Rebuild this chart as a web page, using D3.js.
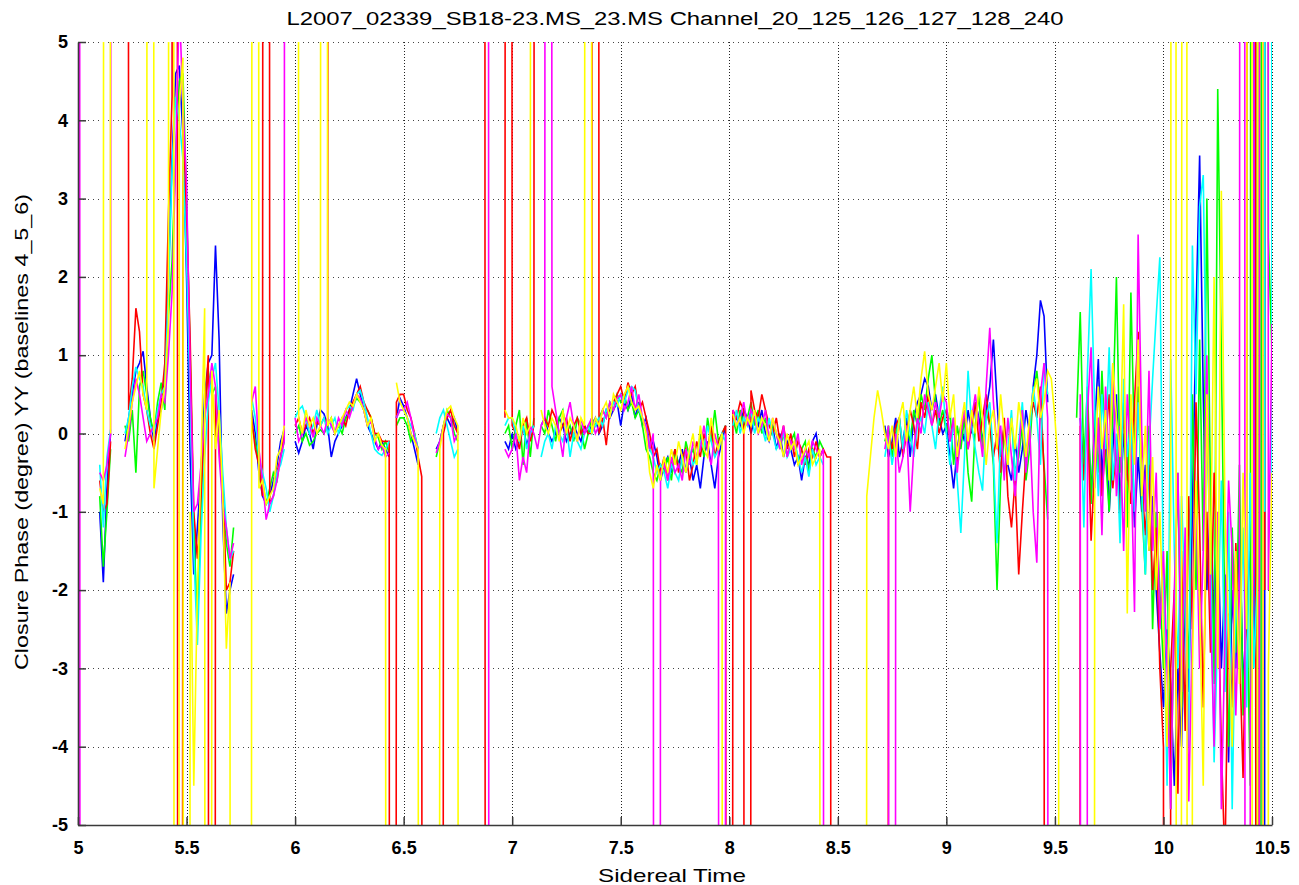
<!DOCTYPE html>
<html>
<head>
<meta charset="utf-8">
<script src="https://cdn.jsdelivr.net/npm/d3@7"></script>
<style>
  body { margin: 0; background: #fff; }
  svg { display: block; }
  text { font-family: "Liberation Sans", Arial, sans-serif; }
</style>
</head>
<body>
<div id="main"></div>
<script>
const N = null; // gap in the record (NaN in the original plot)

const chartTitle = "L2007_02339_SB18-23.MS_23.MS Channel_20_125_126_127_128_240";
const xLabel = "Sidereal Time";
const yLabel = "Closure Phase (degree) YY (baselines 4_5_6)";
const xTicks = [5, 5.5, 6, 6.5, 7, 7.5, 8, 8.5, 9, 9.5, 10, 10.5];
const yTicks = [-5, -4, -3, -2, -1, 0, 1, 2, 3, 4, 5];

// one sample per sidereal minute, 5.0h .. 10.5h (30 per row = half an hour)
const tStart = 5, samplesPerHour = 60;

const blue = [
  N,N,N,N,N,N,-1.0,-1.9,-0.7,0.0,N,N,N,-0.1,0.2,0.5,0.8,0.9,1.05,0.6,0.2,-0.1,0.2,0.3,0.7,2.0,3.5,4.6,4.7,3.8,
  2.0,-0.3,-1.8,-1.2,-0.5,0.5,0.9,1.0,2.4,1.2,-1.1,-2.3,-2.0,-1.8,N,N,N,N,0.3,0.0,-0.5,-0.8,-0.9,-0.8,-0.6,-0.4,-0.1,0.05,N,N,
  -0.1,-0.25,-0.1,0.1,0.0,-0.2,0.1,0.3,0.25,0.1,-0.3,-0.1,0.0,0.1,0.2,0.3,0.5,0.7,0.5,0.3,0.1,0.0,-0.1,-0.2,-0.1,-0.2,-0.3,N,0.2,0.45,
  0.35,0.2,0.0,-0.2,-0.4,N,N,N,N,-0.2,-0.1,0.1,0.2,0.1,0.2,0.0,N,N,N,N,N,N,N,N,N,N,N,N,-0.1,-0.2,
  0.0,-0.2,-0.1,0.1,-0.15,0.0,0.1,N,0.1,0.2,0.0,-0.1,0.0,0.2,0.1,-0.1,0.0,0.1,0.0,-0.1,0.1,0.0,0.1,0.2,0.0,0.1,0.3,0.2,0.3,0.4,
  0.1,0.4,0.3,0.5,0.2,0.4,0.1,0.2,-0.2,-0.1,-0.3,-0.6,-0.4,-0.3,-0.5,-0.2,-0.4,-0.2,-0.5,-0.3,-0.6,-0.4,-0.7,-0.3,-0.1,-0.4,-0.7,-0.3,-0.1,0.1,
  N,0.1,0.2,0.1,0.3,0.2,0.0,0.2,0.1,0.3,0.0,-0.1,0.1,-0.2,0.0,-0.3,-0.1,-0.2,-0.4,-0.3,-0.6,-0.3,-0.4,-0.1,0.0,-0.3,-0.2,N,N,N,
  N,N,N,N,N,N,N,N,N,N,N,N,N,0.1,-0.3,-0.1,0.2,-0.3,-0.1,0.2,-0.3,0.2,0.4,0.5,0.7,0.6,0.3,0.5,0.2,0.0,
  0.1,-0.3,-0.7,-0.2,0.1,-0.1,0.3,0.0,0.4,0.2,-0.1,0.3,0.6,1.2,0.4,-0.3,0.1,-0.4,-0.6,-0.1,-0.5,-0.2,0.3,0.0,0.6,1.0,1.7,1.5,0.4,N,
  N,N,N,N,N,N,N,0.2,-0.5,0.4,-0.8,0.1,0.95,-0.6,0.3,-1.0,-0.2,0.5,-0.9,0.0,-0.6,0.4,-1.2,-0.3,-1.0,-0.4,-1.5,-0.8,-2.0,-2.8,
  -3.5,-2.5,-3.2,-4.5,-3.0,-4.0,-2.0,-3.3,-1.0,1.5,3.55,0.5,-2.0,-0.8,-2.5,-1.2,-3.0,-1.8,-4.2,-2.0,-3.0,-1.0,-3.3,-2.2,-1.5,-2.8,99,-99,-1.0,99,
  3.0
];

const red = [
  N,N,N,N,N,N,-0.6,-1.0,-0.9,-0.1,N,N,N,99,0.3,0.7,1.6,1.3,0.5,0.3,0.0,-0.2,0.1,0.4,0.9,2.8,4.3,99,-99,4.0,
  2.8,1.2,-1.0,-1.6,-0.8,0.2,1.0,-99,0.5,-0.2,-0.6,-2.0,-1.9,-1.5,N,N,N,N,0.2,-0.2,-0.4,-0.8,99,-0.9,-0.8,-0.5,-0.3,0.0,N,N,
  0.1,0.2,0.0,0.1,0.2,0.0,0.15,0.1,0.2,0.1,99,N,0.1,0.2,0.1,0.3,0.4,0.5,0.6,0.4,0.3,0.2,0.0,0.0,-0.1,-0.1,-0.1,-99,0.4,0.5,
  0.5,0.3,0.2,0.0,-0.3,-0.55,-99,N,N,N,-99,0.0,0.2,0.3,0.1,0.0,N,N,N,N,N,N,99,-99,N,N,N,N,0.2,99,
  0.1,0.0,-0.2,0.1,0.2,-0.1,0.1,99,N,0.2,0.1,0.3,0.2,0.0,0.1,0.2,-0.1,0.1,0.2,0.0,0.1,0.0,0.0,99,0.0,0.2,-0.15,0.3,0.4,0.5,
  0.6,0.4,0.65,0.5,0.6,0.3,0.4,0.2,0.0,-0.3,-0.2,-0.5,-0.3,-0.6,-0.4,-0.2,-0.5,-0.3,-0.2,-0.6,-0.4,-0.1,-0.3,0.0,-0.2,0.1,-0.3,-0.1,0.0,0.1,
  -99,0.3,0.2,0.4,0.3,-99,0.55,0.3,0.2,0.5,0.3,0.1,0.0,0.2,-0.1,0.1,-0.2,0.0,-0.3,-0.1,-0.2,-0.4,-0.2,-0.3,-0.1,-0.3,-0.2,-0.3,-0.3,-99,
  N,N,N,N,N,N,N,N,N,N,N,N,N,-99,0.0,-0.2,0.1,0.2,-0.3,0.0,0.3,0.1,-0.2,0.4,0.2,0.5,0.1,0.3,0.0,0.2,
  0.3,-0.1,0.2,-0.4,0.0,0.3,-0.2,0.1,0.4,-0.1,0.2,0.5,0.1,-0.3,0.0,-0.5,0.2,-0.8,-1.2,-0.6,-1.8,-1.0,-0.3,0.1,0.4,0.2,0.6,-0.5,-99,N,
  N,N,N,N,N,N,-99,0.1,-0.6,0.3,-1.37,-0.4,0.2,-0.8,-0.1,0.5,-0.7,-0.2,-1.1,0.3,-0.5,-0.9,0.4,1.3,-0.6,-1.3,-0.4,-2.0,-1.2,-3.0,
  -4.0,-99,-3.0,-2.0,-4.6,-1.5,-3.8,-0.8,-2.5,0.4,-1.2,-3.5,-1.0,-2.8,-0.5,-1.8,-4.0,-5.5,-2.3,-3.5,-1.4,-2.7,-4.4,-1.9,99,99,-99,99,-2.0,99,
  4.0
];

const green = [
  N,N,N,N,N,N,-0.8,-1.7,-1.0,-0.2,N,N,N,0.1,-0.1,0.3,-0.5,0.6,0.8,0.5,0.2,0.0,0.4,0.65,0.3,1.5,2.2,3.6,4.5,4.6,
  3.0,1.0,-1.2,-2.45,-1.0,0.3,0.8,0.5,0.6,-0.1,-0.7,-1.4,-1.7,-1.2,N,N,N,N,0.1,-0.1,-0.4,-0.6,-0.9,-0.7,-0.5,-0.6,-0.3,-0.1,N,N,
  0.0,0.1,-0.1,0.0,-0.15,-0.1,0.0,0.05,0.0,0.1,0.2,0.0,0.1,0.0,0.2,0.25,0.35,0.45,0.4,0.3,0.3,0.2,0.0,-0.05,-0.2,-0.1,-0.25,N,0.1,0.2,
  0.2,0.1,-0.1,0.0,-0.2,N,N,N,N,-0.3,-0.1,0.1,0.3,0.2,0.0,-0.1,N,N,N,N,N,N,N,N,N,N,N,N,0.0,0.1,
  -0.2,0.1,0.3,-0.4,0.2,-0.3,0.2,N,0.1,0.0,0.3,0.1,-0.1,0.2,0.3,0.0,0.1,-0.1,0.2,0.1,-0.2,0.0,0.2,0.1,0.2,0.3,0.2,0.4,0.3,0.5,
  0.4,0.5,0.3,0.4,0.2,0.3,0.1,-0.2,-0.3,-0.5,-0.6,-0.4,-0.5,-0.3,-0.6,-0.2,-0.4,-0.5,-0.1,-0.3,-0.2,-0.4,0.0,-0.3,0.2,-0.1,0.3,-0.1,0.0,0.1,
  N,0.2,0.0,0.3,0.1,0.2,0.4,0.1,0.3,0.0,0.2,-0.1,0.1,0.0,-0.2,0.0,-0.3,-0.1,0.0,-0.4,-0.2,-0.1,-0.5,-0.2,-0.3,-0.1,-0.2,N,N,N,
  N,N,N,N,N,N,N,N,N,N,N,N,N,-0.1,0.1,-0.3,0.0,0.2,-0.2,0.1,-0.1,0.3,0.1,0.5,0.3,0.7,1.0,0.4,0.1,0.3,
  0.0,0.3,-0.4,0.1,-0.2,0.2,-0.5,-0.87,0.1,0.5,-0.2,0.3,0.1,-0.4,-2.0,-0.6,0.0,-0.3,0.2,-0.5,-0.3,0.1,-0.6,-0.2,0.5,0.8,0.3,-0.4,-1.1,N,
  N,N,N,N,N,N,0.2,1.55,-0.4,0.6,-0.9,0.3,-0.5,0.8,-0.3,-1.0,0.2,2.0,-0.5,0.4,-1.2,1.8,-0.2,0.6,-0.9,-1.8,0.1,-2.5,-1.0,-2.0,
  -3.0,-1.5,-4.8,-2.2,-0.5,-3.5,-1.8,-3.0,0.5,-2.0,1.2,-1.5,3.0,-0.8,-3.2,4.4,1.0,-2.5,-4.0,-1.2,-2.8,-0.4,-3.6,-2.0,-4.5,99,-99,-1.0,99,2.5,
  1.0
];

const magenta = [
  99,-99,N,N,N,N,-0.5,-0.6,-0.4,0.0,99,N,N,-0.3,0.0,0.4,0.7,0.5,0.2,-0.1,0.0,0.1,0.2,0.5,0.4,1.0,1.8,3.5,5.5,4.2,
  3.2,0.8,-1.0,-0.9,-0.4,0.2,0.5,0.9,0.6,-0.3,-0.9,-1.2,-1.6,-1.4,N,N,N,N,0.4,0.6,-0.2,-0.6,-1.1,-0.9,-0.8,-0.6,-0.3,-0.1,99,N,
  0.2,-0.1,0.0,0.2,0.1,-0.05,0.2,0.1,0.0,0.2,0.1,0.0,0.2,0.1,0.3,0.2,0.35,0.5,0.45,0.3,0.1,0.15,-0.05,-0.2,-0.15,-0.3,-0.25,N,0.2,0.3,
  0.3,0.4,0.2,-0.05,-0.2,N,N,N,N,-0.25,-0.1,0.1,0.25,0.2,-0.1,0.0,N,N,N,N,N,N,N,99,-99,N,N,N,-0.2,-0.3,
  -0.2,0.0,-0.6,-0.3,-0.5,0.1,0.0,-0.2,0.1,0.2,99,0.6,0.3,0.0,-0.3,0.2,0.4,0.1,-0.1,0.2,0.0,0.1,0.2,0.0,0.1,0.3,0.2,0.4,0.3,0.45,
  0.5,0.3,0.4,0.6,0.3,0.5,0.2,0.1,-0.2,0.0,-99,-0.5,-0.4,-0.6,-0.3,-0.5,-0.4,-0.6,-0.2,-0.4,-0.1,-0.3,-0.2,0.1,-0.2,-0.4,0.0,-0.2,-99,0.0,
  N,0.3,0.1,0.2,0.4,0.1,0.3,0.2,0.0,0.1,0.3,-0.1,0.2,0.0,-0.2,0.1,-0.3,-0.1,-0.2,0.0,-0.4,-0.2,-0.3,-0.1,-0.2,-0.3,-0.2,-99,N,N,
  N,N,N,N,N,N,N,N,N,N,N,N,N,-0.2,0.1,-99,0.0,-0.5,-0.3,0.1,-1.0,-0.2,0.2,0.0,0.5,0.3,0.1,0.4,0.2,0.5,
  0.4,-0.1,0.2,-0.5,0.0,0.3,-0.2,0.2,0.5,0.1,-0.3,0.6,1.35,0.4,-0.2,0.1,-0.6,0.2,-0.3,-0.8,-0.2,0.3,-0.5,0.1,-1.0,-1.65,0.5,0.9,0.2,-99,
  N,N,N,N,N,N,N,0.5,-99,0.3,1.1,-0.7,0.2,-1.3,0.6,-0.4,0.9,-0.8,0.1,-1.5,0.5,-0.3,-2.28,2.54,0.0,-1.0,0.8,-1.5,-0.5,-2.5,
  -1.5,-3.0,-4.8,-2.0,-0.5,-3.3,-1.2,-4.7,-2.5,-0.8,-3.0,-1.5,1.0,-2.2,-4.0,-1.0,-4.8,-2.6,-0.6,-1.5,-3.6,-2.0,99,-99,-3.6,-1.5,99,-99,99,-2.0,
  1.4
];

const cyan = [
  N,N,N,N,N,N,-0.4,-1.2,-0.3,0.05,N,N,N,0.0,0.2,0.6,0.85,0.7,0.6,0.3,0.1,0.0,0.3,0.5,0.6,1.8,3.4,4.3,4.0,3.5,
  2.2,0.5,-1.5,-2.7,-1.3,-0.3,0.4,0.7,0.9,0.3,-0.5,-1.2,-1.6,-1.5,N,N,N,N,0.45,0.2,-0.3,-0.5,-0.7,-1.0,-0.8,-0.5,-0.4,-0.2,N,N,
  0.2,0.3,0.35,0.2,0.0,0.1,0.3,0.1,0.2,0.0,0.1,0.2,0.0,0.15,0.3,0.35,0.3,0.5,0.55,0.4,0.2,0.0,-0.2,-0.25,-0.28,-0.2,-0.1,N,0.2,0.3,
  0.3,0.2,0.1,0.0,-0.2,N,N,N,N,0.0,0.2,0.3,0.1,-0.1,-0.3,-0.2,N,N,N,N,N,N,N,N,N,N,N,N,0.1,0.2,
  0.2,0.0,-0.1,0.1,-0.2,0.0,0.1,N,-0.3,-0.1,0.0,-0.2,0.1,0.0,-0.1,0.1,-0.3,0.0,-0.1,-0.2,0.0,0.1,0.0,0.1,0.2,0.1,0.3,0.25,0.4,0.35,
  0.5,0.4,0.55,0.6,0.55,0.3,0.2,0.1,-0.2,-0.3,-0.5,-0.4,-0.5,-0.7,-0.4,-0.5,-0.6,-0.3,-0.5,-0.2,-0.4,-0.3,-0.1,-0.2,0.1,-0.1,-0.3,-0.2,0.0,-0.1,
  N,0.1,0.3,0.0,0.2,0.1,0.3,0.0,0.2,0.1,-0.1,0.2,0.0,-0.2,-0.1,0.0,-0.3,-0.2,-0.1,-0.3,-0.5,-0.3,-0.55,-0.2,-0.4,-0.3,-0.4,N,N,N,
  N,N,N,N,N,N,N,N,N,N,N,N,N,-0.3,0.0,-0.4,-0.1,0.2,-0.2,0.3,0.0,-0.3,0.1,0.2,0.0,0.4,0.1,-0.2,0.3,0.6,
  0.0,-0.4,0.2,-0.6,-1.27,-0.3,0.8,0.1,-0.2,-0.5,-0.73,0.2,0.4,-0.3,-1.4,0.0,-0.5,-0.2,0.3,-0.6,-0.1,0.4,-0.3,0.0,0.6,0.2,-0.4,0.9,0.5,N,
  N,N,N,N,N,N,N,0.4,-1.2,0.8,2.1,0.3,-0.8,0.5,-0.2,1.1,-0.6,0.0,-1.4,0.7,-0.3,0.2,-1.0,0.4,-0.7,-1.8,-0.2,0.7,1.5,2.25,
  -2.0,-4.5,0.95,-1.5,-3.0,-0.8,-2.2,-4.0,2.4,0.5,2.9,3.3,0.0,-1.5,-4.2,-2.5,-0.6,-3.3,-1.0,-4.8,-2.0,-3.0,-1.2,-3.5,-0.5,-3.0,-1.8,99,-1.0,99,
  -1.5
];

const yellow = [
  N,N,N,N,N,N,-0.7,-0.9,99,0.0,N,N,N,-0.2,0.1,0.4,0.6,0.8,0.5,0.3,99,-0.7,-0.2,0.3,0.6,1.4,99,-99,4.2,4.8,
  -99,-1.0,-4.5,-2.0,-0.4,1.6,-99,0.8,-0.2,0.3,-0.8,-2.75,-1.9,-99,N,N,N,-99,0.1,99,-0.7,-0.6,-0.9,-0.8,-0.7,-0.3,-0.2,0.1,N,N,
  99,0.2,0.0,0.3,0.1,0.2,0.0,0.1,99,0.1,0.2,0.0,0.1,0.2,0.3,0.4,0.35,0.5,0.4,0.3,0.1,0.2,-0.1,0.0,-0.15,-0.2,-99,N,0.65,0.4,
  0.3,0.2,0.0,-0.1,-0.2,-99,N,N,N,-99,-0.2,0.1,0.3,0.35,0.2,0.1,-99,N,N,N,N,N,N,N,N,N,N,N,0.3,0.2,
  0.2,0.1,-0.1,0.2,0.0,0.1,99,N,0.3,0.1,0.0,0.2,0.1,-0.1,0.3,0.0,0.2,0.1,-0.1,0.2,0.1,99,0.0,0.2,0.1,0.3,0.4,0.2,0.5,0.4,
  0.3,0.5,0.6,0.4,0.3,0.35,0.2,0.0,-0.5,-0.7,-0.4,-0.6,-0.3,-0.5,-0.2,-0.4,-0.1,-0.3,-0.5,-0.2,0.0,-0.4,0.1,-0.2,-0.3,0.2,-0.1,-0.2,0.0,-99,
  N,0.25,0.1,0.2,0.0,0.2,0.1,0.3,0.0,0.2,0.1,-0.1,0.2,0.0,-0.1,-0.3,0.0,-0.2,-0.1,-0.4,-0.3,-0.2,-0.1,-0.4,-0.3,-0.2,-99,N,N,N,
  N,N,N,N,N,N,N,-99,-0.8,-0.3,0.2,0.55,0.3,0.0,-0.2,0.1,-0.3,0.2,0.4,-0.1,0.3,0.6,0.2,0.7,1.05,0.5,0.3,0.6,0.9,0.4,
  0.9,0.2,0.5,-0.3,0.1,0.4,-0.1,0.3,0.0,0.6,0.2,-0.4,0.1,0.3,-0.2,0.5,0.0,-0.4,0.2,-0.2,0.4,0.1,-0.3,0.2,0.5,0.7,0.2,0.4,0.8,0.7,
  0.2,-0.5,-99,N,N,N,N,N,N,N,-99,-0.5,0.6,-0.2,0.3,-0.6,0.9,0.2,-0.3,1.65,-2.3,0.5,-0.4,1.2,-0.8,0.1,-1.5,-0.3,-2.0,-1.0,
  -2.5,-4.0,-1.0,99,-99,-2.0,99,-99,-3.0,-0.6,-2.2,-4.5,0.5,-1.8,2.0,-3.0,3.1,-1.0,-2.5,-4.0,-1.5,-3.2,-0.5,-2.5,99,-99,-2.0,99,-99,-3.0,
  -0.5
];

const ctx = {
    WIDTH: 1299,
    HEIGHT: 885,
    left: 78, right: 1272, top: 42, bottom: 825,
};

// drawing order, last one ends on top
const series = [
    { name: "blue", color: "#0000ff", values: blue },
    { name: "green", color: "#00ff00", values: green },
    { name: "red", color: "#ff0000", values: red },
    { name: "cyan", color: "#00ffff", values: cyan },
    { name: "magenta", color: "#ff00ff", values: magenta },
    { name: "yellow", color: "#ffff00", values: yellow },
];

function createViz() {
    const svg = d3.select("#main").append("svg")
        .attr("width", ctx.WIDTH)
        .attr("height", ctx.HEIGHT);

    const x = d3.scaleLinear().domain([5, 10.5]).range([ctx.left, ctx.right]);
    const y = d3.scaleLinear().domain([-5, 5]).range([ctx.bottom, ctx.top]);

    svg.append("defs").append("clipPath").attr("id", "plotClip")
        .append("rect")
        .attr("x", ctx.left).attr("y", ctx.top)
        .attr("width", ctx.right - ctx.left)
        .attr("height", ctx.bottom - ctx.top);

    // dotted grid (under the data, like matlab)
    const grid = svg.append("g").attr("id", "grid");
    grid.selectAll("line.vgrid")
        .data(xTicks.filter(d => d !== 5))
        .enter().append("line")
        .attr("class", "vgrid")
        .attr("x1", d => Math.round(x(d)) + 0.5).attr("x2", d => Math.round(x(d)) + 0.5)
        .attr("y1", ctx.top).attr("y2", ctx.bottom)
        .attr("stroke", "#222").attr("stroke-width", 1)
        .attr("stroke-dasharray", "1,2");
    grid.selectAll("line.hgrid")
        .data(yTicks.filter(d => d !== -5))
        .enter().append("line")
        .attr("class", "hgrid")
        .attr("x1", ctx.left).attr("x2", ctx.right)
        .attr("y1", d => Math.round(y(d)) + 0.5).attr("y2", d => Math.round(y(d)) + 0.5)
        .attr("stroke", "#444").attr("stroke-width", 1)
        .attr("stroke-dasharray", "1,4");

    // the traces
    const line = d3.line()
        .defined(d => d !== null)
        .x((d, i) => x(tStart + i / samplesPerHour))
        .y(d => y(d));

    svg.append("g").attr("id", "traces")
        .attr("clip-path", "url(#plotClip)")
        .selectAll("path")
        .data(series)
        .enter().append("path")
        .attr("d", s => line(s.values))
        .attr("fill", "none")
        .attr("stroke", s => s.color)
        .attr("stroke-width", 1.6)
        .attr("stroke-linejoin", "miter");

    // axes
    const xAxis = d3.axisBottom(x)
        .tickValues(xTicks)
        .tickFormat(d => String(d))
        .tickSizeInner(-8).tickSizeOuter(0)
        .tickPadding(16);
    const yAxis = d3.axisLeft(y)
        .tickValues(yTicks)
        .tickFormat(d => String(d))
        .tickSizeInner(-8).tickSizeOuter(0)
        .tickPadding(10);

    const gx = svg.append("g")
        .attr("transform", `translate(0,${ctx.bottom})`)
        .call(xAxis);
    const gy = svg.append("g")
        .attr("transform", `translate(${ctx.left},0)`)
        .call(yAxis);

    [gx, gy].forEach(g => {
        g.attr("color", "#3a3a3a");
        g.select(".domain").attr("stroke-width", 1.6);
        g.selectAll(".tick line").attr("stroke-width", 1.5);
        g.selectAll(".tick text")
            .attr("fill", "#000")
            .attr("font-family", "Liberation Sans, Arial, sans-serif")
            .attr("font-size", 18)
            .attr("font-weight", "bold");
    });

    // labels
    svg.append("text")
        .attr("x", (ctx.left + ctx.right) / 2)
        .attr("y", 25)
        .attr("text-anchor", "middle")
        .attr("font-size", 18)
        .attr("textLength", 777)
        .attr("lengthAdjust", "spacingAndGlyphs")
        .text(chartTitle);

    svg.append("text")
        .attr("x", 672)
        .attr("y", 882)
        .attr("text-anchor", "middle")
        .attr("font-size", 19)
        .attr("textLength", 148)
        .attr("lengthAdjust", "spacingAndGlyphs")
        .text(xLabel);

    svg.append("text")
        .attr("transform", "translate(28,432) rotate(-90)")
        .attr("text-anchor", "middle")
        .attr("font-size", 18)
        .attr("textLength", 476)
        .attr("lengthAdjust", "spacingAndGlyphs")
        .text(yLabel);
}

createViz();
</script>
</body>
</html>
